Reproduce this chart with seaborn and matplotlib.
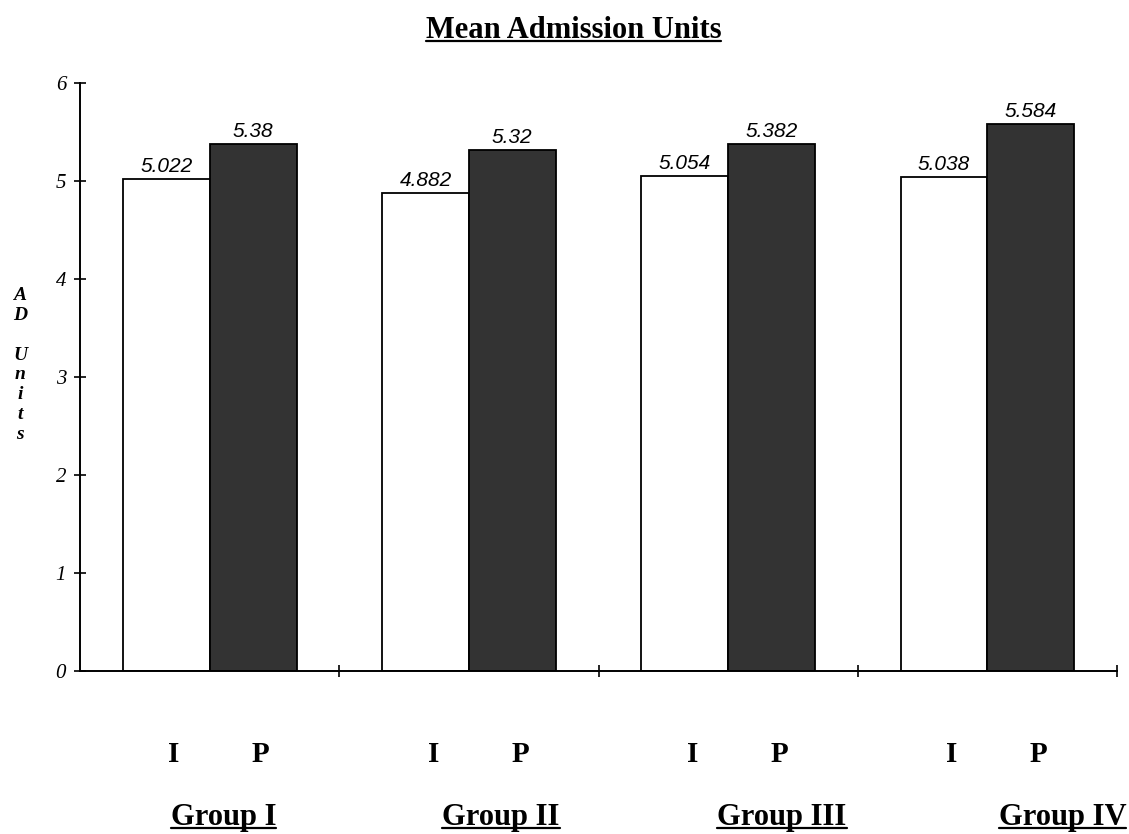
import pandas as pd
import seaborn as sns
import matplotlib.pyplot as plt
import matplotlib.transforms as mtransforms
from matplotlib.lines import Line2D

# data
groups = ['Group I', 'Group II', 'Group III', 'Group IV']
kinds = ['I', 'P']
i_values = [5.022, 4.882, 5.054, 5.038]
p_values = [5.38, 5.32, 5.382, 5.584]
i_labels = ['5.022', '4.882', '5.054', '5.038']
p_labels = ['5.38', '5.32', '5.382', '5.584']
y_ticks = [0, 1, 2, 3, 4, 5, 6]

df = pd.DataFrame({
    'group': groups * 2,
    'kind': ['I'] * len(groups) + ['P'] * len(groups),
    'units': i_values + p_values,
})

sns.set_theme(style='white')
plt.rcParams['font.family'] = ['Liberation Serif', 'DejaVu Serif']
plt.rcParams['text.color'] = 'black'
plt.rcParams['xtick.color'] = 'black'
plt.rcParams['ytick.color'] = 'black'

fig = plt.figure(figsize=(11.29, 8.34), dpi=100)
ax = fig.add_axes([0.0709, 0.1954, 0.9185, 0.7051])

sns.barplot(data=df, x='group', y='units', hue='kind', order=groups, hue_order=kinds,
            palette={'I': 'white', 'P': '#333333'}, width=0.67,
            edgecolor='black', linewidth=1.3, legend=False, ax=ax)

ax.bar_label(ax.containers[0], labels=i_labels, padding=2, fontsize=15,
             fontstyle='italic', family='Liberation Sans', color='black')
ax.bar_label(ax.containers[1], labels=p_labels, padding=2, fontsize=15,
             fontstyle='italic', family='Liberation Sans', color='black')

ax.set_xlim(-0.5, 3.5)
ax.set_ylim(0, 6)
ax.set_xticks([0.5, 1.5, 2.5, 3.5])
ax.set_xticklabels([])
ax.set_yticks(y_ticks)
ax.set_yticklabels([str(v) for v in y_ticks], fontstyle='italic', fontsize=15)
ax.tick_params(axis='x', direction='inout', length=8, width=1.2, color='black', bottom=True)
ax.tick_params(axis='y', direction='inout', length=8, width=1.2, color='black', left=True, pad=6)
ax.set_xlabel('')
ax.set_ylabel('')
sns.despine(ax=ax)
for side in ['left', 'bottom']:
    ax.spines[side].set_color('black')
    ax.spines[side].set_linewidth(1.4)

# vertical stacked axis label
fig.text(0.0177, 0.5624, 'A\nD\n\nU\nn\ni\nt\ns', ha='center', va='center',
         fontsize=14, fontstyle='italic', fontweight='bold', linespacing=1.22)

# I / P labels under each bar, then group names
trans = mtransforms.blended_transform_factory(ax.transData, fig.transFigure)
for k, g in enumerate(groups):
    ax.text(k - 0.1675 + 0.03, 0.0863, 'I', transform=trans, ha='center', va='baseline',
            fontsize=21, fontweight='bold', clip_on=False)
    ax.text(k + 0.1675 + 0.03, 0.0863, 'P', transform=trans, ha='center', va='baseline',
            fontsize=21, fontweight='bold', clip_on=False)

name_shift = [0.054, 0.124, 0.208, 0.29]
underlined = []
for k, g in enumerate(groups):
    t = ax.text(k + name_shift[k], 0.0108, g, transform=trans, ha='center', va='baseline',
                fontsize=22, fontweight='bold', clip_on=False)
    underlined.append(t)

title = fig.text(0.508, 0.954, 'Mean Admission Units', ha='center', va='baseline',
                 fontsize=22, fontweight='bold')
underlined.append(title)

fig.canvas.draw()
W, H = fig.bbox.width, fig.bbox.height
for t in underlined:
    bb = t.get_window_extent()
    base = t.get_transform().transform(t.get_position())[1]
    y = (base - 3) / H
    fig.add_artist(Line2D([bb.x0 / W, bb.x1 / W], [y, y], transform=fig.transFigure,
                          color='black', linewidth=1.6))

fig.savefig('out.png', dpi=100, facecolor='white')
